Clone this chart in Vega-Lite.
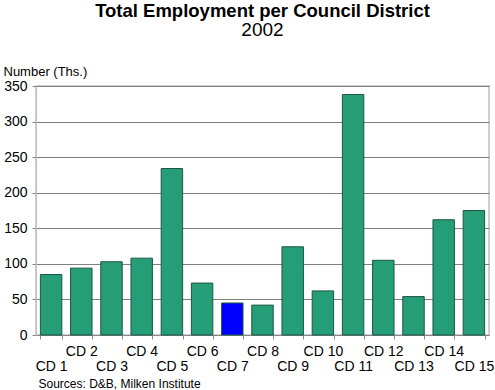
{
  "$schema": "https://vega.github.io/schema/vega-lite/v6.json",
  "width": 453,
  "height": 249,
  "autosize": "none",
  "padding": {"left": 36, "top": 86, "right": 6, "bottom": 55},
  "background": "white",
  "title": {
    "text": "Total Employment per Council District",
    "subtitle": "2002",
    "font": "Liberation Sans",
    "fontSize": 18.5,
    "fontWeight": "bold",
    "color": "black",
    "subtitleFont": "Liberation Sans",
    "subtitleFontSize": 19,
    "subtitleColor": "black",
    "subtitlePadding": 1,
    "anchor": "middle",
    "offset": 25
  },
  "data": {
    "values": [
      {"cd": 1, "employment": 85},
      {"cd": 2, "employment": 94},
      {"cd": 3, "employment": 103},
      {"cd": 4, "employment": 108},
      {"cd": 5, "employment": 234},
      {"cd": 6, "employment": 73},
      {"cd": 7, "employment": 45},
      {"cd": 8, "employment": 42},
      {"cd": 9, "employment": 124},
      {"cd": 10, "employment": 62},
      {"cd": 11, "employment": 338},
      {"cd": 12, "employment": 105},
      {"cd": 13, "employment": 54},
      {"cd": 14, "employment": 162},
      {"cd": 15, "employment": 175}
    ]
  },
  "mark": {"type": "bar", "stroke": "#1d5644", "strokeWidth": 1},
  "encoding": {
    "x": {
      "field": "cd",
      "type": "ordinal",
      "scale": {"paddingInner": 0.29, "paddingOuter": 0.145},
      "axis": {
        "labelExpr": "isValid(datum.value) ? (datum.value % 2 == 1 ? ['', 'CD ' + datum.value] : 'CD ' + datum.value) : ''",
        "labelAngle": 0,
        "labelFontSize": 14,
        "labelLineHeight": 15.5,
        "labelColor": "black",
        "labelPadding": 5,
        "tickBand": "extent",
        "tickSize": 4,
        "tickColor": "#888888",
        "domainColor": "#888888",
        "grid": false,
        "title": "Sources: D&B, Milken Institute",
        "titleAnchor": "start",
        "titleAlign": "left",
        "titleX": 2,
        "titleY": 52,
        "titleBaseline": "alphabetic",
        "titleFontSize": 12,
        "titleFontWeight": "normal",
        "titleColor": "black"
      }
    },
    "y": {
      "field": "employment",
      "type": "quantitative",
      "scale": {"domain": [0, 350], "nice": false},
      "axis": {
        "values": [0, 50, 100, 150, 200, 250, 300, 350],
        "title": "Number (Ths.)",
        "titleAngle": 0,
        "titleAlign": "left",
        "titleBaseline": "alphabetic",
        "titleX": -33,
        "titleY": -11,
        "titleFontSize": 13,
        "titleFontWeight": "normal",
        "titleColor": "black",
        "labelFontSize": 14,
        "labelColor": "black",
        "labelPadding": 5,
        "tickSize": 4,
        "tickColor": "#888888",
        "domainColor": "#c0c0c0",
        "gridColor": "#808080",
        "gridWidth": 1
      }
    },
    "color": {
      "condition": {"test": "datum.cd == 7", "value": "#0000ff"},
      "value": "#259d77"
    }
  },
  "config": {
    "font": "Liberation Sans",
    "view": {"stroke": "#c0c0c0", "strokeWidth": 1.5}
  }
}
